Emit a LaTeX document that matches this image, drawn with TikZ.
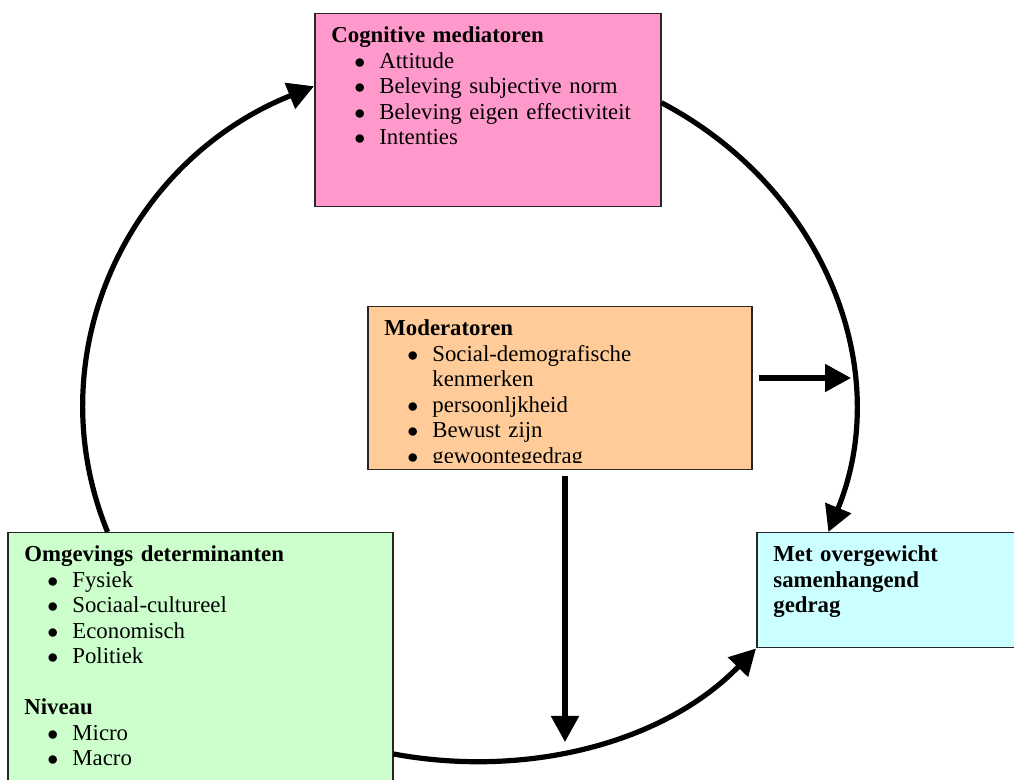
\documentclass[tikz,border=0pt]{standalone}
\usepackage{fontspec}
\setmainfont{Liberation Serif}
\usepackage{tikz}
\usetikzlibrary{arrows.meta, positioning, calc}

\definecolor{cogpink}{HTML}{FF99CC}
\definecolor{modorange}{HTML}{FFCC99}
\definecolor{envgreen}{HTML}{CCFFCC}
\definecolor{behcyan}{HTML}{CCFFFF}

\tikzstyle{block} = [rectangle, draw=black!85, line width=0.75pt, inner sep=0pt, anchor=north west]
\tikzstyle{txt} = [anchor=base west, inner sep=0pt, text width=180pt, align=left, font=\fontsize{11.4}{12.75}\selectfont]
\tikzstyle{line} = [draw, line width=2.6pt, -{Triangle[length=13pt, width=13.5pt]}]

\newcommand{\bulitem}[1]{\hspace*{11.5pt}\makebox[12.5pt][l]{$\bullet$}#1}
\newcommand{\bulcont}[1]{\hspace*{24pt}#1}

\begin{document}
\begin{tikzpicture}[x=0.5pt, y=-0.5pt]
    \useasboundingbox (0,0) rectangle (1014,780);
    \clip (0,0) rectangle (1014,780);

    % Nodes
    \node [block, fill=cogpink, minimum width=173pt, minimum height=96.5pt] (cog) at (314,13) {};
    \node [block, fill=modorange, minimum width=192pt, minimum height=81.5pt] (mod) at (367,306) {};
    \node [block, fill=envgreen, minimum width=192.5pt, minimum height=140pt] (omg) at (7,532) {};
    \node [block, fill=behcyan, minimum width=150pt, minimum height=57.5pt] (gedrag) at (756,532) {};

    % Texts
    \node [txt] (cogtxt) at ([shift={(8.5pt,-15pt)}]cog.north west) {\textbf{Cognitive mediatoren}\\
        \bulitem{Attitude}\\ \bulitem{Beleving subjective norm}\\
        \bulitem{Beleving eigen effectiviteit}\\ \bulitem{Intenties}};
    \begin{scope}
        \clip (mod.north west) rectangle ([yshift=4pt]mod.south east);
        \node [txt] (modtxt) at ([shift={(8.5pt,-15pt)}]mod.north west) {\textbf{Moderatoren}\\
            \bulitem{Social-demografische}\\ \bulcont{kenmerken}\\
            \bulitem{persoonljkheid}\\ \bulitem{Bewust zijn}\\ \bulitem{gewoontegedrag}};
    \end{scope}
    \node [txt] (omgtxt) at ([shift={(8.5pt,-15pt)}]omg.north west) {\textbf{Omgevings determinanten}\\
        \bulitem{Fysiek}\\ \bulitem{Sociaal-cultureel}\\ \bulitem{Economisch}\\ \bulitem{Politiek}\\[12.75pt]
        \textbf{Niveau}\\ \bulitem{Micro}\\ \bulitem{Macro}};
    \node [txt] (gedragtxt) at ([shift={(8.5pt,-15pt)}]gedrag.north west) {\textbf{Met overgewicht}\\
        \textbf{samenhangend}\\ \textbf{gedrag}};

    % Edges
    \coordinate (hitR) at (851,378);
    \coordinate (hitB) at (565,742);
    \path [line] ([xshift=50.3pt]omg.north west) .. controls +(-72,-175.8) and +(-187.7,75.2) .. ([yshift=12pt]cog.west);
    \path [line] ([yshift=3.75pt]cog.east) .. controls +(163.5,86.2) and +(66.3,-161.8) .. ([xshift=36.2pt]gedrag.north west);
    \path [line] ([yshift=-111pt]omg.north east) .. controls +(134.4,24.8) and +(-91,94) .. (gedrag.south west);
    \path [line] ([xshift=3pt]mod.east |- hitR) -- (hitR);
    \path [line] ([yshift=-3pt]mod.south -| hitB) -- (hitB);
\end{tikzpicture}
\end{document}
